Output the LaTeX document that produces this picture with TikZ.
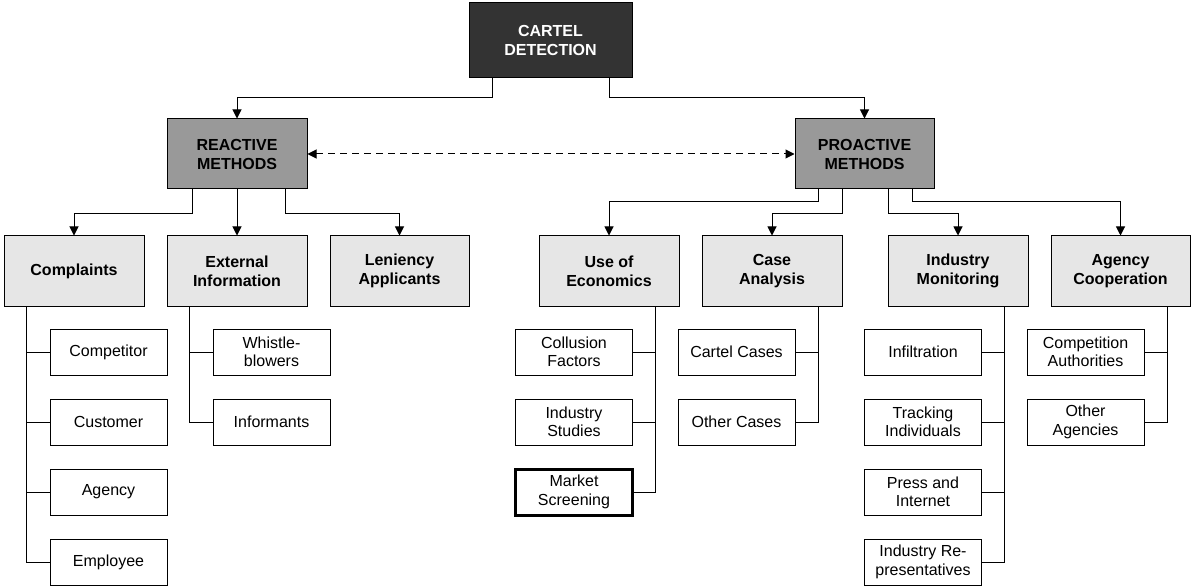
\documentclass[tikz,border=0pt]{standalone}
\usepackage{fontspec}
\setmainfont{Liberation Sans}
\usetikzlibrary{arrows.meta}
\definecolor{cdfill}{HTML}{333333}
\definecolor{mfill}{HTML}{999999}
\definecolor{lfill}{HTML}{E6E6E6}
\tikzset{
  base/.style={draw=black, line width=1pt, inner sep=0pt, align=center,
    font=\fontsize{16}{18.4}\selectfont},
  topbox/.style={base, fill=cdfill, text=white, minimum width=163pt, minimum height=75pt,
    font=\fontsize{16}{19}\selectfont\bfseries},
  methbox/.style={base, fill=mfill, minimum width=140pt, minimum height=70pt,
    font=\fontsize{16}{19}\selectfont\bfseries},
  catbox/.style={base, fill=lfill, minimum width=140pt, minimum height=70pt,
    font=\fontsize{16}{19}\selectfont\bfseries},
  leafbox/.style={base, fill=white, minimum width=117pt, minimum height=46pt},
  thickleaf/.style={leafbox, line width=3pt},
  conn/.style={draw=black, line width=1pt},
  arr/.style={conn, -{Triangle[length=9pt,width=9pt]}},
  dasharr/.style={conn, {Triangle[length=9pt,width=9pt]}-{Triangle[length=9pt,width=9pt]}, dash pattern=on 7pt off 5pt},
}
\begin{document}
\begin{tikzpicture}[x=1pt,y=-1pt]
\useasboundingbox (0,0) rectangle (1192,588);
% top
\node[topbox] (cd) at (550.5,40.5) {CARTEL\\DETECTION};
\node[methbox] (rm) at (237,154) {REACTIVE\\METHODS};
\node[methbox, minimum width=139pt] (pm) at (864.5,154) {PROACTIVE\\METHODS};
% categories
\node[catbox] (comp) at (74,271) {Complaints};
\node[catbox] (ext) at (237,271) {External\\Information};
\node[catbox, minimum width=139pt] (len) at (399.5,271) {Leniency\\Applicants};
\node[catbox] (econ) at (609,271) {Use of\\Economics};
\node[catbox] (case) at (772,271) {Case\\Analysis};
\node[catbox] (ind) at (958,271) {Industry\\Monitoring};
\node[catbox, minimum width=139pt] (agc) at (1120.5,271) {Agency\\Cooperation};
% leaves: complaints
\node[leafbox] (c1) at (108.5,352) {Competitor};
\node[leafbox] (c2) at (108.5,422) {Customer};
\node[leafbox] (c3) at (108.5,492) {Agency};
\node[leafbox] (c4) at (108.5,562) {Employee};
% external
\node[leafbox] (x1) at (271.5,352) {Whistle-\\blowers};
\node[leafbox] (x2) at (271.5,422) {Informants};
% economics
\node[leafbox] (e1) at (574,352) {Collusion\\Factors};
\node[leafbox] (e2) at (574,422) {Industry\\Studies};
\node[thickleaf] (e3) at (574,492) {Market\\Screening};
% case
\node[leafbox] (k1) at (736.5,352) {Cartel Cases};
\node[leafbox] (k2) at (736.5,422) {Other Cases};
% industry
\node[leafbox] (i1) at (923,352) {Infiltration};
\node[leafbox] (i2) at (923,422) {Tracking\\Individuals};
\node[leafbox] (i3) at (923,492) {Press and\\Internet};
\node[leafbox] (i4) at (923,562) {Industry Re-\\presentatives};
% agency
\node[leafbox] (a1) at (1085.5,352) {Competition\\Authorities};
\node[leafbox] (a2) at (1085.5,422) {Other\\Agencies};
% top connectors
\draw[arr] ([xshift=24pt]cd.south west) -- ++(0,19) -| (rm.north);
\draw[arr] ([xshift=-23pt]cd.south east) -- ++(0,19) -| (pm.north);
\draw[dasharr] (rm.east) -- (pm.west);
% reactive children
\draw[arr] ([xshift=-45pt]rm.south) -- ++(0,24) -| (comp.north);
\draw[arr] (rm.south) -- (ext.north);
\draw[arr] ([xshift=48pt]rm.south) -- ++(0,24) -| (len.north);
% proactive children
\draw[arr] ([xshift=-46.5pt]pm.south) -- ++(0,12) -| (econ.north);
\draw[arr] ([xshift=-22.5pt]pm.south) -- ++(0,24) -| (case.north);
\draw[arr] ([xshift=23.5pt]pm.south) -- ++(0,24) -| (ind.north);
\draw[arr] ([xshift=47.5pt]pm.south) -- ++(0,12) -| (agc.north);
% buses
\coordinate (cb) at ([xshift=23pt]comp.south west);
\draw[conn] (cb) |- (c4.west);
\foreach \n in {c1,c2,c3} \draw[conn] (\n.west) -- (\n.west -| cb);
\coordinate (xb) at ([xshift=23pt]ext.south west);
\draw[conn] (xb) |- (x2.west);
\draw[conn] (x1.west) -- (x1.west -| xb);
\coordinate (eb) at ([xshift=-24pt]econ.south east);
\draw[conn] (eb) |- (e3.east);
\foreach \n in {e1,e2} \draw[conn] (\n.east) -- (\n.east -| eb);
\coordinate (kb) at ([xshift=-24pt]case.south east);
\draw[conn] (kb) |- (k2.east);
\draw[conn] (k1.east) -- (k1.east -| kb);
\coordinate (ib) at ([xshift=-24pt]ind.south east);
\draw[conn] (ib) |- (i4.east);
\foreach \n in {i1,i2,i3} \draw[conn] (\n.east) -- (\n.east -| ib);
\coordinate (ab) at ([xshift=-23pt]agc.south east);
\draw[conn] (ab) |- (a2.east);
\draw[conn] (a1.east) -- (a1.east -| ab);
\end{tikzpicture}
\end{document}
